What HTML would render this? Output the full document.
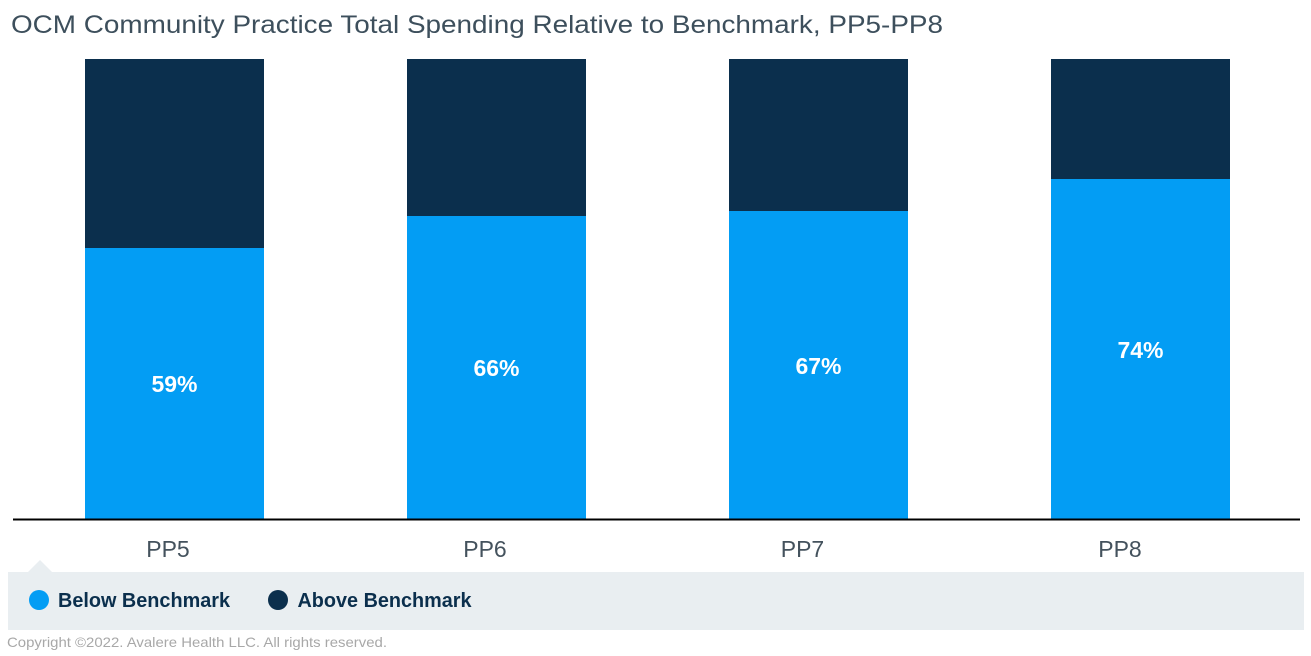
<!DOCTYPE html>
<html>
<head>
<meta charset="utf-8">
<style>
  html, body { margin: 0; padding: 0; background: #ffffff; }
  body { width: 1311px; height: 656px; overflow: hidden; }
  svg { display: block; }
  text { font-family: "Liberation Sans", Arial, sans-serif; }
</style>
</head>
<body>
<svg width="1311" height="656" viewBox="0 0 1311 656" xmlns="http://www.w3.org/2000/svg">
  <rect x="0" y="0" width="1311" height="656" fill="#ffffff"/>
  <!-- Title -->
  <text x="11" y="33" font-size="25" fill="#3d4f5c" textLength="932" lengthAdjust="spacingAndGlyphs">OCM Community Practice Total Spending Relative to Benchmark, PP5-PP8</text>

  <!-- Bars: plot top 59, bottom 519 -->
  <!-- PP5 -->
  <rect x="85" y="59" width="179" height="189" fill="#0b2f4d"/>
  <rect x="85" y="248" width="179" height="271" fill="#039df4"/>
  <!-- PP6 -->
  <rect x="407" y="59" width="179" height="157" fill="#0b2f4d"/>
  <rect x="407" y="216" width="179" height="303" fill="#039df4"/>
  <!-- PP7 -->
  <rect x="729" y="59" width="179" height="152" fill="#0b2f4d"/>
  <rect x="729" y="211" width="179" height="308" fill="#039df4"/>
  <!-- PP8 -->
  <rect x="1051" y="59" width="179" height="120" fill="#0b2f4d"/>
  <rect x="1051" y="179" width="179" height="340" fill="#039df4"/>

  <!-- Data labels -->
  <g font-size="23" font-weight="bold" fill="#ffffff" text-anchor="middle">
    <text x="174.5" y="392">59%</text>
    <text x="496.5" y="376">66%</text>
    <text x="818.5" y="374">67%</text>
    <text x="1140.5" y="358">74%</text>
  </g>

  <!-- Axis line -->
  <rect x="13" y="518.5" width="1287" height="2" fill="#000000"/>

  <!-- Category labels -->
  <g font-size="23" fill="#44525d" text-anchor="middle">
    <text x="168" y="557">PP5</text>
    <text x="485" y="557">PP6</text>
    <text x="802.5" y="557">PP7</text>
    <text x="1120" y="557">PP8</text>
  </g>

  <!-- Legend box -->
  <rect x="8" y="572" width="1296" height="58" fill="#e9eef1"/>
  <polygon points="28,572 40,560 52,572" fill="#e9eef1"/>
  <circle cx="39" cy="600" r="10" fill="#039df4"/>
  <text x="58" y="607" font-size="20" font-weight="bold" fill="#0b2f4d" textLength="172" lengthAdjust="spacingAndGlyphs">Below Benchmark</text>
  <circle cx="278" cy="600" r="10" fill="#0b2f4d"/>
  <text x="297.5" y="607" font-size="20" font-weight="bold" fill="#0b2f4d" textLength="174" lengthAdjust="spacingAndGlyphs">Above Benchmark</text>

  <!-- Copyright -->
  <text x="7" y="647" font-size="14" fill="#a8a8a8" textLength="380" lengthAdjust="spacingAndGlyphs">Copyright ©2022. Avalere Health LLC. All rights reserved.</text>
</svg>
</body>
</html>
